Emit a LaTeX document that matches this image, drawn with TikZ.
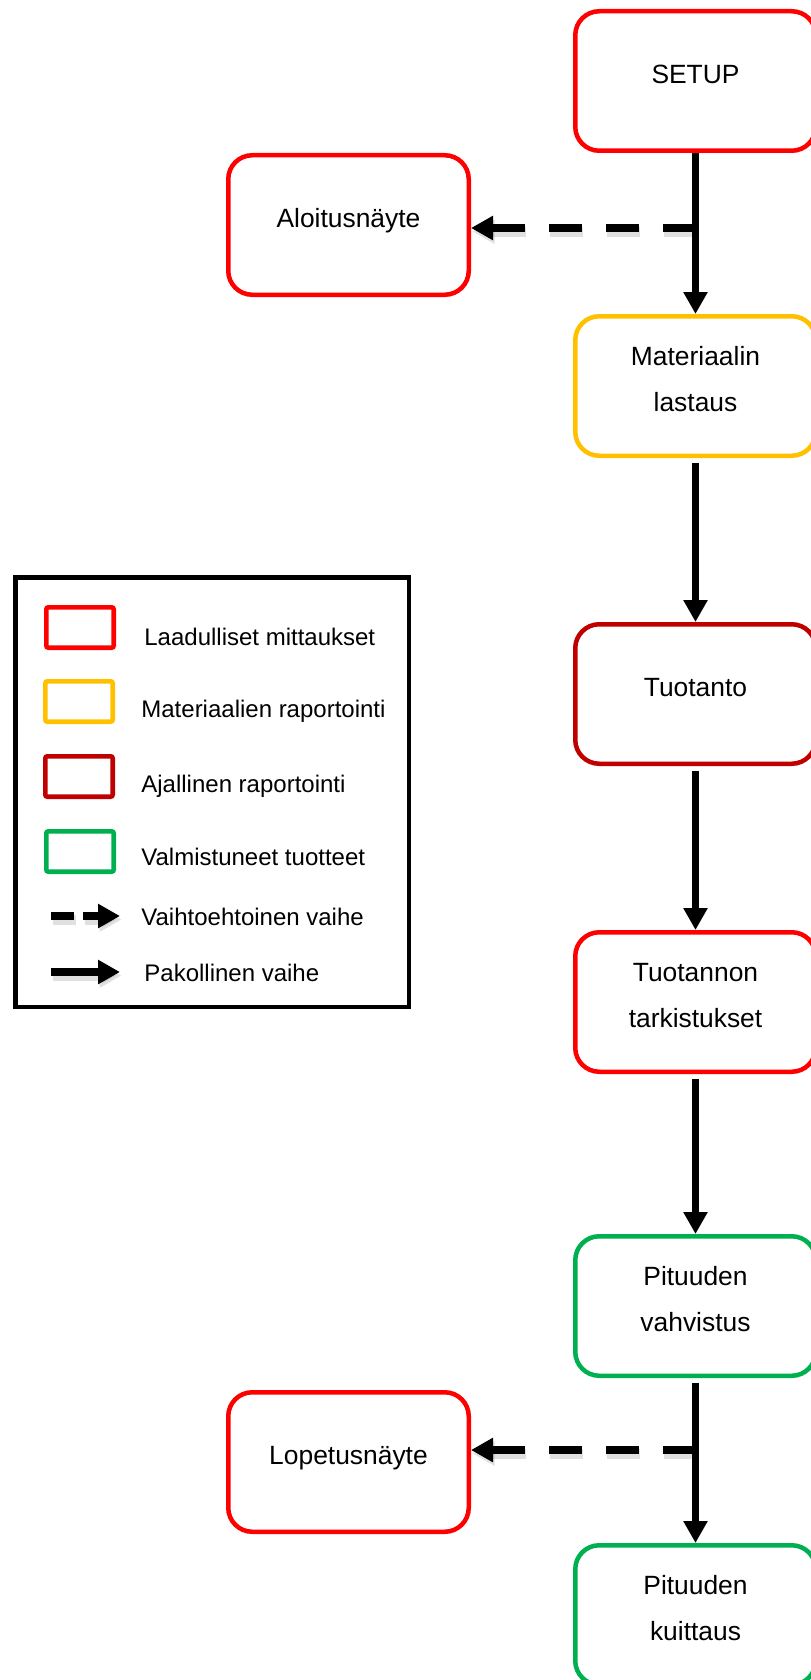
\documentclass[tikz,border=0pt]{standalone}
\usepackage{fontspec}
\setmainfont{Liberation Sans}
\usetikzlibrary{arrows.meta}
\definecolor{qred}{HTML}{FF0000}
\definecolor{qyellow}{HTML}{FFC000}
\definecolor{qdark}{HTML}{C00000}
\definecolor{qgreen}{HTML}{00B050}
\begin{document}
\begin{tikzpicture}[x=0.5pt,y=-0.5pt,
  stepbox/.style={draw, line width=2.25pt, rounded corners=12pt, minimum width=120.25pt, minimum height=69.75pt, inner sep=0pt, align=center, font=\fontsize{13.2}{23}\selectfont, text depth=7.55pt},
  one/.style={stepbox, text height=10pt},
  two/.style={stepbox, text height=33pt},
  flow/.style={line width=3.75pt, -{Triangle[length=11pt,width=11.5pt]}},
  shade/.style={preaction={draw=black, opacity=0.12, line width=5pt, #1, transform canvas={shift={(0.8pt,-1.8pt)}}}},
  opt/.style={flow, dash pattern=on 16.5pt off 12pt, shade={dash pattern=on 16.5pt off 12pt}},
  legbox/.style={draw, line width=2.35pt, rounded corners=1pt, minimum width=33.65pt, minimum height=20.15pt, inner sep=0pt},
  legtext/.style={anchor=base west, inner sep=0pt, font=\fontsize{12}{14}\selectfont}
]
\useasboundingbox (0,0) rectangle (810,1680);

% flow boxes
\node[one, draw=qred]    (setup) at (695.5,81)   {SETUP};
\node[one, draw=qred]    (aloit) at (348.5,225)  {Aloitusnäyte};
\node[two, draw=qyellow] (mat)   at (695.5,386)  {Materiaalin\\lastaus};
\node[one, draw=qdark]   (tuot)  at (695.5,694)  {Tuotanto};
\node[two, draw=qred]    (tt)    at (695.5,1002) {Tuotannon\\tarkistukset};
\node[two, draw=qgreen]  (pv)    at (695.5,1306) {Pituuden\\vahvistus};
\node[one, draw=qred]    (lop)   at (348.5,1462) {Lopetusnäyte};
\node[two, draw=qgreen]  (pk)    at (695.5,1615) {Pituuden\\kuittaus};

% mandatory flow
\draw[flow] (setup) -- (mat);
\draw[flow, shorten <=2.5pt] (mat) -- (tuot);
\draw[flow, shorten <=2.5pt] (tuot) -- (tt);
\draw[flow, shorten <=2.5pt] (tt) -- (pv);
\draw[flow, shorten <=2.5pt] (pv) -- (pk);

% optional branches
\coordinate (j1) at (695.5,228);
\draw[opt] (j1) -- (aloit.east |- j1);
\coordinate (j2) at (695.5,1450);
\draw[opt] (j2) -- (lop.east |- j2);

% legend
\draw[line width=2.25pt] (15.25,577.25) rectangle (408.75,1006.75);
\node[legbox, draw=qred]    (lr) at (80,627.5) {};
\node[legbox, draw=qyellow] (ly) at (79,701.5) {};
\node[legbox, draw=qdark]   (ld) at (79,776.5) {};
\node[legbox, draw=qgreen]  (lg) at (80,851.5) {};
\node[legtext] (tr) at (144,645)   {Laadulliset mittaukset};
\node[legtext] (ty) at (141,717)   {Materiaalien raportointi};
\node[legtext] (td) at (141,792)   {Ajallinen raportointi};
\node[legtext] (tg) at (141,865.5) {Valmistuneet tuotteet};
\node[legtext] (to) at (141,925.7) {Vaihtoehtoinen vaihe};
\node[legtext] (tm) at (144,981.5) {Pakollinen vaihe};
\coordinate (oa) at (51,916);
\coordinate (ob) at (120,916);
\draw[flow, dash pattern=on 11.5pt off 4.5pt, shade={dash pattern=on 11.5pt off 4.5pt}] (oa) -- (ob);
\coordinate (ma) at (51,972);
\coordinate (mb) at (120,972);
\draw[flow, shade={solid}] (ma) -- (mb);
\end{tikzpicture}
\end{document}
